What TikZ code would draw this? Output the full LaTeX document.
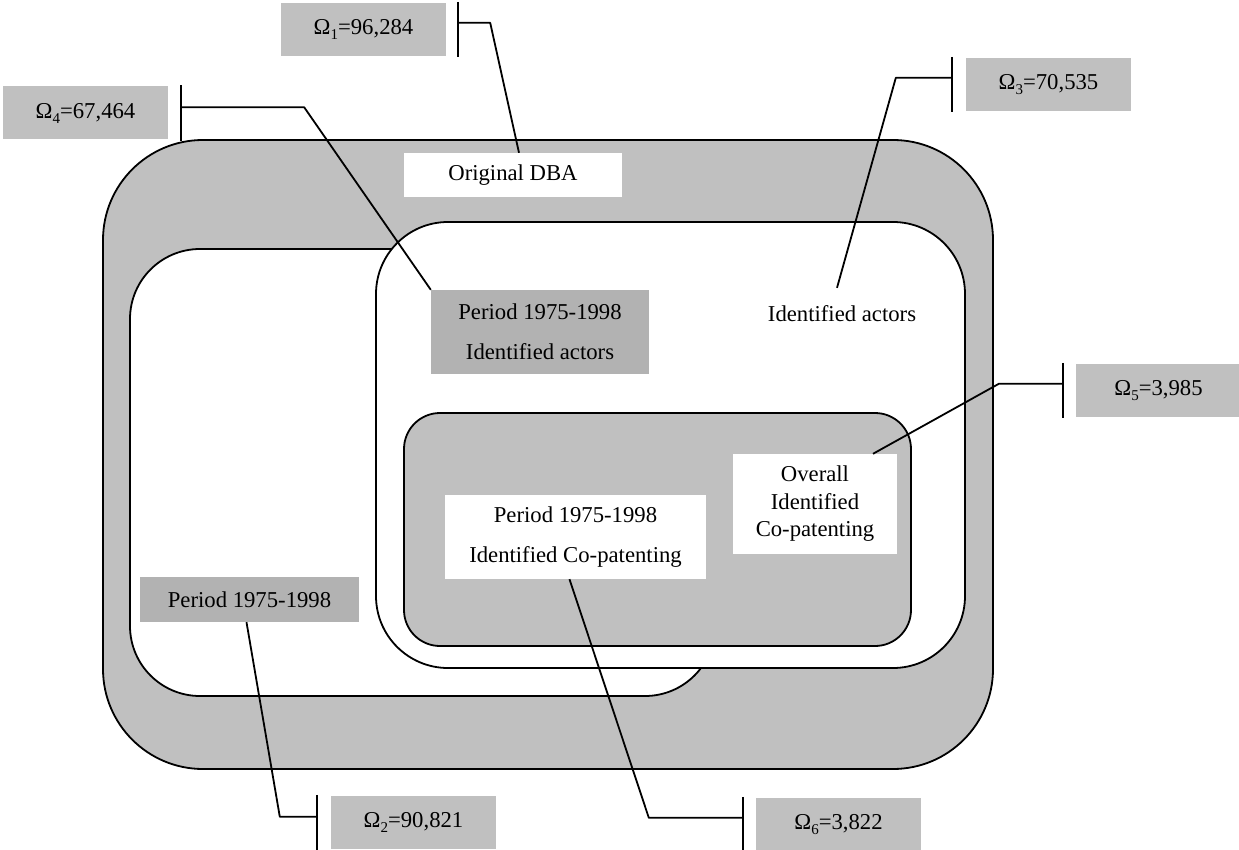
\documentclass[tikz,border=0pt]{standalone}
\usepackage{fontspec}
\setmainfont{Liberation Serif}
\definecolor{lg}{RGB}{192,192,192}
\definecolor{dg}{RGB}{178,178,178}
\newcommand{\omsub}[1]{Ω\raisebox{-5pt}{\fontsize{15}{15}\selectfont #1}}
\begin{document}
\begin{tikzpicture}[x=1pt,y=-1pt,line join=round,
  region/.style={draw=black,line width=1.8pt},
  conn/.style={draw=black,line width=1.8pt},
  omega/.style={fill=lg,minimum width=165pt,minimum height=53pt,inner sep=0pt,font=\fontsize{22.7}{27.5}\selectfont},
  onebox/.style={inner sep=0pt,font=\fontsize{22.7}{27.5}\selectfont,align=center},
  twobox/.style={inner sep=0pt,font=\fontsize{22.7}{40}\selectfont,align=center}]
\useasboundingbox (0,0) rectangle (1239,850);
% regions
\draw[region,fill=lg,rounded corners=100pt] (103,140) rectangle (993,769);
\draw[region,fill=white,rounded corners=70pt] (130,249) rectangle (715,696);
\draw[region,fill=white,rounded corners=72pt] (376,222) rectangle (965,668);
\draw[region,fill=lg,rounded corners=36pt] (404,413) rectangle (911,646);
% labels inside
\node[onebox,fill=white,minimum width=218pt,minimum height=44pt] (dba) at (513,175) {Original DBA};
\node[twobox,fill=dg,minimum width=218pt,minimum height=84pt] (pa) at (540,332) {Period 1975-1998\\Identified actors};
\node[onebox,minimum width=160pt,minimum height=52pt] (ia) at (842,314) {Identified actors};
\node[onebox,fill=white,minimum width=164pt,minimum height=100pt] (ov) at (815,504) {Overall\\Identified\\Co-patenting};
\node[twobox,fill=white,minimum width=261pt,minimum height=84pt] (pc) at (575.5,537) {Period 1975-1998\\Identified Co-patenting};
\node[onebox,fill=dg,minimum width=219pt,minimum height=45pt] (pb) at (249.5,599.5) {Period 1975-1998};
% omega boxes
\node[omega] (o1) at (363.5,29.5) {\omsub{1}=96,284};
\node[omega] (o4) at (85.5,113) {\omsub{4}=67,464};
\node[omega] (o3) at (1048.5,84.5) {\omsub{3}=70,535};
\node[omega] (o5) at (1158.5,390.5) {\omsub{5}=3,985};
\node[omega] (o2) at (413.5,822.5) {\omsub{2}=90,821};
\node[omega] (o6) at (838.5,824.5) {\omsub{6}=3,822};
% bars
\draw[conn] ([xshift=12pt,yshift=1pt]o1.north east) -- ([xshift=12pt,yshift=-1pt]o1.south east);
\draw[conn] ([xshift=13pt,yshift=1pt]o4.north east) -- ([xshift=13pt,yshift=-1pt]o4.south east);
\draw[conn] ([xshift=-14pt,yshift=1pt]o3.north west) -- ([xshift=-14pt,yshift=-1pt]o3.south west);
\draw[conn] ([xshift=-13pt,yshift=1pt]o5.north west) -- ([xshift=-13pt,yshift=-1pt]o5.south west);
\draw[conn] ([xshift=-14pt,yshift=1pt]o2.north west) -- ([xshift=-14pt,yshift=-1pt]o2.south west);
\draw[conn] ([xshift=-13pt,yshift=1pt]o6.north west) -- ([xshift=-13pt,yshift=-1pt]o6.south west);
% connectors
\draw[conn] ([xshift=12pt,yshift=-20pt]o1.north east) -- ++(32,0) -- ([xshift=6pt]dba.north);
\draw[conn] ([xshift=13pt,yshift=-21pt]o4.north east) -- ++(123,0) -- (pa.north west);
\draw[conn] ([xshift=-14pt,yshift=-20pt]o3.north west) -- ++(-56,0) -- ([xshift=-5pt]ia.north);
\draw[conn] ([xshift=-13pt,yshift=-20pt]o5.north west) -- ++(-64,0) -- ([xshift=58pt]ov.north);
\draw[conn] ([xshift=-14pt,yshift=-21pt]o2.north west) -- ++(-37,0) -- ([xshift=-3pt]pb.south);
\draw[conn] ([xshift=-13pt,yshift=-20pt]o6.north west) -- ++(-94,0) -- ([xshift=-6pt]pc.south);
\end{tikzpicture}
\end{document}
